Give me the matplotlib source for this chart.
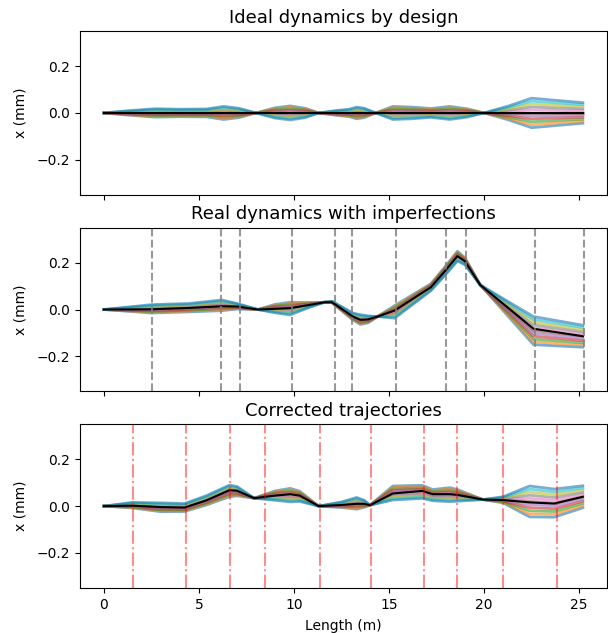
import numpy as np
import matplotlib
matplotlib.use('Agg')
import matplotlib.pyplot as plt

# relative offsets of the fan of trajectories (first -> last)
offsets = [-1.0, -0.8, -0.6, -0.4, -0.2, 0.0, 0.2, 0.4, 0.6, 0.8, 1.0]

# ideal dynamics
s_top = [0, 1.2, 2.7, 4.0, 5.4, 6.3, 7.1, 8.0, 9.0, 9.8, 10.6, 11.3, 12.2, 12.9,
         13.3, 13.7, 14.3, 15.2, 16.2, 17.2, 18.2, 19.1, 20.0, 21.3, 22.5, 25.2]
ref_top = [0.0] * len(s_top)
center_top = [0.0] * len(s_top)
spread_top = [0, 0.009, 0.018, 0.016, 0.017, 0.028, 0.02, 0, -0.022, -0.03, -0.02, 0,
              0.01, 0.016, 0.025, 0.02, 0, -0.028, -0.025, -0.019, -0.028, -0.018, 0,
              0.03, 0.063, 0.044]

# real dynamics with imperfections
s_mid = [0, 2.5, 4.5, 6.2, 7.0, 8.1, 9.0, 9.8, 10.7, 11.6, 12.0, 13.1, 13.5, 13.9,
         14.4, 15.3, 17.2, 17.9, 18.6, 19.0, 19.8, 22.6, 25.2]
ref_mid = [0, 0.001, 0.007, 0.014, 0.013, 0.0, 0.003, 0.006, 0.018, 0.031, 0.031,
           -0.03, -0.044, -0.042, -0.03, -0.004, 0.095, 0.16, 0.228, 0.206, 0.105,
           -0.082, -0.114]
center_mid = [0, 0.003, 0.008, 0.018, 0.014, 0.0, 0.004, 0.004, 0.018, 0.031, 0.032,
              -0.03, -0.043, -0.042, -0.03, -0.01, 0.095, 0.16, 0.228, 0.206, 0.105,
              -0.09, -0.114]
spread_mid = [0, 0.018, 0.018, 0.023, 0.012, 0, -0.018, -0.027, -0.012, 0, 0.003,
              0.015, 0.021, 0.015, 0, -0.027, -0.015, -0.018, -0.021, -0.015, 0,
              0.06, 0.047]
kick_pos = [2.54, 6.18, 7.18, 9.87, 12.17, 13.04, 15.38, 18.0, 19.05, 22.69, 25.24]

# corrected
s_bot = [0, 1.5, 3.0, 4.24, 5.4, 6.6, 7.0, 7.9, 9.0, 9.8, 10.3, 11.3, 12.5, 13.3,
         13.7, 14.0, 15.2, 16.75, 17.3, 18.2, 18.6, 19.95, 21.0, 22.4, 23.7, 25.2]
ref_bot = [0, 0.002, -0.004, -0.006, 0.025, 0.068, 0.066, 0.034, 0.045, 0.051, 0.045,
           0.0, 0.005, 0.01, 0.01, 0.004, 0.054, 0.065, 0.051, 0.051, 0.048, 0.028,
           0.026, 0.016, 0.011, 0.04]
center_bot = [0, 0.004, -0.005, -0.006, 0.025, 0.065, 0.064, 0.034, 0.045, 0.047,
              0.042, 0, 0.006, 0.012, 0.01, 0.004, 0.056, 0.061, 0.047, 0.049, 0.046,
              0.028, 0.027, 0.02, 0.013, 0.04]
spread_bot = [0, 0.012, 0.019, 0.017, 0.02, 0.025, 0.02, 0, -0.02, -0.029, -0.022, 0,
              0.012, 0.025, 0.015, 0, -0.03, -0.028, -0.024, -0.03, -0.025, 0, 0.013,
              0.066, 0.06, 0.047]
corr_pos = [1.52, 4.30, 6.64, 8.49, 11.36, 14.04, 16.83, 18.59, 21.0, 23.83]

titles = ['Ideal dynamics by design', 'Real dynamics with imperfections',
          'Corrected trajectories']


def draw_fan(ax, s, center, spread, ref):
    s = np.array(s)
    center = np.array(center)
    spread = np.array(spread)
    for off in offsets:
        ax.plot(s, center + off * spread, lw=2, alpha=0.6)
    ax.plot(s, ref, 'k', lw=1.5)


fig, axs = plt.subplots(3, 1, sharex=True, figsize=(6.08, 6.33), dpi=100)
fig.subplots_adjust(left=0.1316, right=0.998, top=0.951, bottom=0.071, hspace=0.2)

draw_fan(axs[0], s_top, center_top, spread_top, ref_top)
draw_fan(axs[1], s_mid, center_mid, spread_mid, ref_mid)
for p in kick_pos:
    axs[1].axvline(p, color='gray', ls='--', lw=1.5, alpha=0.8)
draw_fan(axs[2], s_bot, center_bot, spread_bot, ref_bot)
for p in corr_pos:
    axs[2].axvline(p, color='red', ls='-.', lw=1.5, alpha=0.45)

for ax, t in zip(axs, titles):
    ax.set_title(t, fontsize=13)
    ax.set_ylim(-0.35, 0.35)
    ax.set_yticks([-0.2, 0.0, 0.2])
    ax.set_ylabel('x (mm)', labelpad=7)
axs[2].set_xlim(-1.26, 26.46)
axs[2].set_xticks([0, 5, 10, 15, 20, 25])
axs[2].set_xlabel('Length (m)', labelpad=5)

plt.savefig('out.png')
